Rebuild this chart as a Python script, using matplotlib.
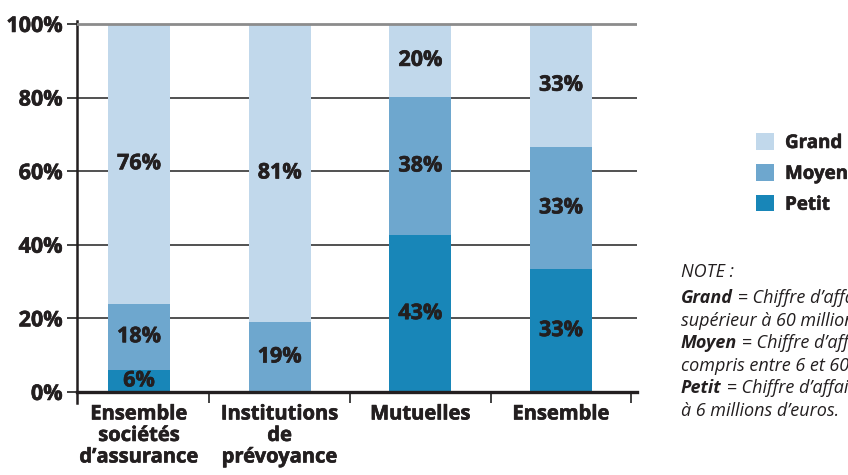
import matplotlib
matplotlib.use("Agg")
import matplotlib.pyplot as plt
import matplotlib.patheffects as pe
from matplotlib.patches import Patch

plt.rcParams['font.family'] = ['Open Sans', 'DejaVu Sans']

categories = ["Ensemble\nsociétés\nd’assurance", "Institutions\nde\nprévoyance", "Mutuelles", "Ensemble"]
series_names = ["Grand", "Moyen", "Petit"]
petit = [6, 0, 43, 33]
moyen = [18, 19, 38, 33]
grand = [76, 81, 20, 33]
yticks = [0, 20, 40, 60, 80, 100]
ytick_labels = ["0%", "20%", "40%", "60%", "80%", "100%"]

note_title = "NOTE :"
note_lines = [
    ("Grand", " = Chiffre d’affaires"),
    ("", "supérieur à 60 millions d’euros."),
    ("Moyen", " = Chiffre d’affaires"),
    ("", "compris entre 6 et 60 millions d’euros."),
    ("Petit", " = Chiffre d’affaires inférieur"),
    ("", "à 6 millions d’euros."),
]

c_grand = "#c1d8eb"
c_moyen = "#6ea7ce"
c_petit = "#1886b8"
txt = "#231f20"
HW = "bold"
thick = [pe.withStroke(linewidth=0.45, foreground=txt)]

W, H = 848, 475
fig = plt.figure(figsize=(W / 100, H / 100), dpi=100)
ax = fig.add_axes([77 / W, 1 - 403 / H, 560 / W, 382 / H])
ax.set_xlim(-0.44, 3.54)
ax.set_ylim(-3, 100.8)

x = list(range(len(categories)))
bw = 0.44

tot = [p + m + g for p, m, g in zip(petit, moyen, grand)]
hp = [v / t * 100 for v, t in zip(petit, tot)]
hm = [v / t * 100 for v, t in zip(moyen, tot)]
hg = [v / t * 100 for v, t in zip(grand, tot)]
b2 = [a + b for a, b in zip(hp, hm)]

for v in yticks[1:-1]:
    ax.axhline(v, color="#333333", lw=1.2, zorder=0)
ax.axhline(100, color="#8c8c8c", lw=2, zorder=3)

ax.bar(x, hp, bw, color=c_petit, zorder=2)
ax.bar(x, hm, bw, bottom=hp, color=c_moyen, zorder=2)
ax.bar(x, hg, bw, bottom=b2, color=c_grand, zorder=2)

for i in x:
    segs = [(petit[i], hp[i], 0), (moyen[i], hm[i], hp[i]), (grand[i], hg[i], b2[i])]
    for val, h, b in segs:
        if val <= 0:
            continue
        ax.text(i, b + h / 2, f"{val}%", ha="center", va="center", fontsize=15.5,
                fontweight=HW, color=txt, zorder=4, path_effects=thick)

ax.spines["top"].set_visible(False)
ax.spines["right"].set_visible(False)
ax.spines["left"].set_linewidth(1.8)
ax.spines["left"].set_color(txt)
ax.spines["bottom"].set_position(("data", 0))
ax.spines["bottom"].set_linewidth(2.4)
ax.spines["bottom"].set_color(txt)
ax.spines["bottom"].set_zorder(5)

ax.set_yticks(yticks)
ax.set_yticklabels(ytick_labels, fontsize=15.5, fontweight=HW, color=txt)
ax.tick_params(axis="y", length=7.5, width=1.3, color="#333333", pad=3)
ax.get_yticklines()[-2].set_color("#8c8c8c")
for t in ax.get_yticklabels():
    t.set_path_effects(thick)

ax.set_xticks(x)
ax.set_xticklabels(categories, fontsize=14.5, fontweight=HW, color=txt, linespacing=1.1)
ax.tick_params(axis="x", which="major", length=0, pad=9)
for t in ax.get_xticklabels():
    t.set_path_effects(thick)
ax.set_xticks([0.5, 1.5, 2.5, 3.5], minor=True)
ax.tick_params(axis="x", which="minor", length=8, width=1.3, color="#333333", direction="out")

handles = [Patch(facecolor=c_grand), Patch(facecolor=c_moyen), Patch(facecolor=c_petit)]
leg = fig.legend(handles, series_names, loc="upper left", bbox_to_anchor=(756 / W, 1 - 133 / H),
                 frameon=False, handlelength=0.95, handleheight=0.95, handletextpad=0.6,
                 labelspacing=0.58, prop={"size": 13.5, "weight": HW}, borderaxespad=0,
                 borderpad=0)
for t in leg.get_texts():
    t.set_color(txt)
    t.set_path_effects([pe.withStroke(linewidth=0.4, foreground=txt)])

nx = 681 / W
fs = 13
fig.text(nx, 1 - 272 / H, note_title, fontsize=fs, style="italic", color=txt, va="center")
for k, (bold, rest) in enumerate(note_lines):
    yy = 1 - (298 + k * 22.6) / H
    if bold:
        t = fig.text(nx, yy, bold, fontsize=fs, style="italic", fontweight="bold",
                     color=txt, va="center")
        plt.annotate(rest, xy=(1, 0), xycoords=t, fontsize=fs, style="italic",
                     color=txt, va="bottom", ha="left", annotation_clip=False)
    else:
        fig.text(nx, yy, rest, fontsize=fs, style="italic", color=txt, va="center")

fig.savefig("out.png", dpi=100)
